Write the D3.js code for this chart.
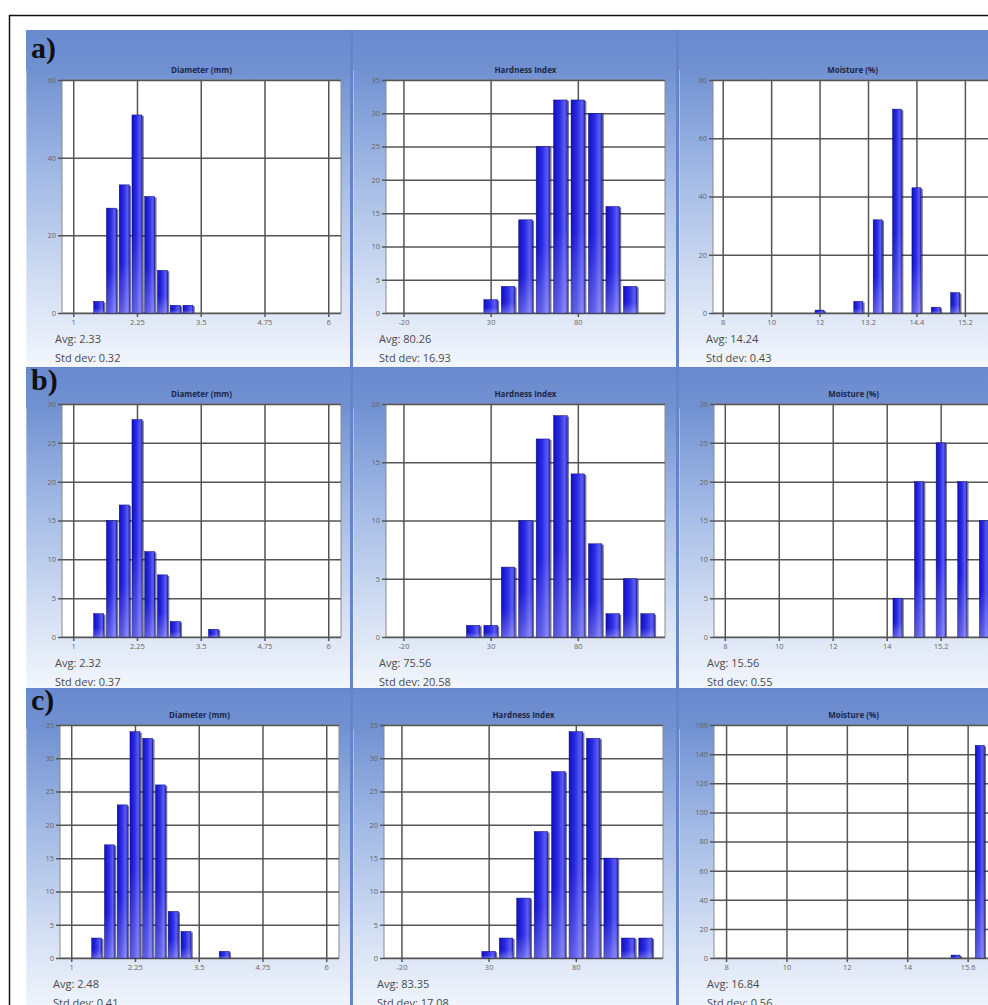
<!DOCTYPE html>
<html>
<head>
<meta charset="utf-8">
<script src="https://cdn.jsdelivr.net/npm/d3@7"></script>
<style>
  body { margin: 0; background: #fff; }
  svg { display: block; }
</style>
</head>
<body>
<svg id="chart" width="988" height="1005"></svg>
<script>
'use strict';

var rowLabels = ['a)', 'b)', 'c)'];
var titles = ['Diameter (mm)', 'Hardness Index', 'Moisture (%)'];

// Diameter (mm)
var diamBins = [1.5, 1.75, 2.0, 2.25, 2.5, 2.75, 3.0, 3.25, 3.5, 3.75, 4.0];
var diamA = [3, 27, 33, 51, 30, 11, 2, 2, 0, 0, 0];
var diamB = [3, 15, 17, 28, 11, 8, 2, 0, 0, 1, 0];
var diamC = [3, 17, 23, 34, 33, 26, 7, 4, 0, 0, 1];
var diamTicks = [1, 2.25, 3.5, 4.75, 6];

// Hardness index
var hardBins = [20, 30, 40, 50, 60, 70, 80, 90, 100, 110, 120];
var hardA = [0, 2, 4, 14, 25, 32, 32, 30, 16, 4, 0];
var hardB = [1, 1, 6, 10, 17, 19, 14, 8, 2, 5, 2];
var hardC = [0, 1, 3, 9, 19, 28, 34, 33, 15, 3, 3];
var hardTicks = [-20, 30, 80];

// Moisture (%) -- the labels sit on evenly spaced grid lines
var moistTicksA = [8, 10, 12, 13.2, 14.4, 15.2];
var moistTicksB = [8, 10, 12, 14, 15.2];
var moistTicksC = [8, 10, 12, 14, 15.6];
var moistBinsA = [12.0, 12.96, 13.44, 13.92, 14.4, 14.72, 15.04];
var moistA = [1, 4, 32, 70, 43, 2, 7];
var moistBinsB = [14.24, 14.72, 15.2, 15.68, 16.16];
var moistB = [5, 20, 25, 20, 15];
var moistBinsC = [15.28, 15.92];
var moistC = [2, 146];

// y axis max / step, rows a,b,c by columns
var yMaxes = [[60, 35, 80], [30, 20, 30], [35, 35, 160]];
var ySteps = [[20, 5, 20], [5, 5, 5], [5, 5, 20]];

var avgs = [['2.33', '80.26', '14.24'], ['2.32', '75.56', '15.56'], ['2.48', '83.35', '16.84']];
var stds = [['0.32', '16.93', '0.43'], ['0.37', '20.58', '0.55'], ['0.41', '17.08', '0.56']];

// layout
var rowTop = [30, 368, 689],
  rowH = [337, 320, 322],
  plotTopOff = [50, 36, 36],
  labelOff = [28, 22, 21],
  colLeft = [26, 353, 679],
  colRight = [350, 676, 1010],
  plotLefts = [[62, 386, 713], [62, 386, 714], [60, 384, 714]],
  plotW = 279,
  plotH = 233,
  moistSpan = [5.76, 5.17, 4.62],
  barW = [10, 13.5, 9];

var svg = d3.select('#chart');
var defs = svg.append('defs');

function grad(id, x2, y2, stops) {
  var g = defs.append('linearGradient').attr('id', id)
    .attr('x1', 0).attr('y1', 0).attr('x2', x2).attr('y2', y2);
  stops.forEach(function (s) {
    g.append('stop').attr('offset', s[0]).attr('stop-color', s[1])
      .attr('stop-opacity', s[2] === undefined ? 1 : s[2]);
  });
}
grad('panelGrad', 0, 1, [[0, '#6a8acf'], [0.12, '#7191d2'], [0.45, '#a5bce6'], [0.8, '#d9e3f5'], [1, '#f2f6fc']]);
grad('barGrad', 1, 0, [[0, '#1010c0'], [0.45, '#2b2be3'], [0.8, '#5a5af5'], [1, '#3a3ad2']]);
grad('barShade', 0, 1, [[0, '#ffffff', 0], [0.6, '#ffffff', 0], [1, '#ffffff', 0.28]]);

// outer frame
svg.append('rect')
  .attr('x', 9.5).attr('y', 15.5).attr('width', 1000).attr('height', 1000)
  .attr('fill', 'none').attr('stroke', '#111').attr('stroke-width', 1.5);

// blue backdrop
svg.append('rect')
  .attr('x', 26).attr('y', 30).attr('width', 990).attr('height', 990)
  .attr('fill', '#6585cb');

var diamCounts = [diamA, diamB, diamC],
  hardCounts = [hardA, hardB, hardC],
  moistTicks = [moistTicksA, moistTicksB, moistTicksC],
  moistBins = [moistBinsA, moistBinsB, moistBinsC],
  moistCounts = [moistA, moistB, moistC];

function xScaleFor(r, c) {
  if (c === 0) return d3.scaleLinear().domain([0.78, 6.25]).range([0, plotW]);
  if (c === 1) return d3.scaleLinear().domain([-30, 130]).range([0, plotW]);
  var ticks = moistTicks[r],
    step = plotW / moistSpan[r];
  return d3.scaleLinear().domain(ticks).range(ticks.map(function (d, i) {
    return (i + 0.2) * step;
  }));
}

rowLabels.forEach(function (lab, r) {
  [0, 1, 2].forEach(function (c) {
    svg.append('rect')
      .attr('x', colLeft[c]).attr('y', rowTop[r])
      .attr('width', colRight[c] - colLeft[c]).attr('height', rowH[r])
      .attr('fill', 'url(#panelGrad)');
    svg.append('line')
      .attr('x1', colLeft[c] + 0.5).attr('x2', colLeft[c] + 0.5)
      .attr('y1', rowTop[r] + 40).attr('y2', rowTop[r] + rowH[r])
      .attr('stroke', '#ffffff').attr('stroke-opacity', 0.35);

    var px = plotLefts[r][c],
      py = rowTop[r] + plotTopOff[r];
    var x = xScaleFor(r, c);
    var y = d3.scaleLinear().domain([0, yMaxes[r][c]]).range([plotH, 0]);
    var bins = c === 0 ? diamBins : c === 1 ? hardBins : moistBins[r];
    var counts = c === 0 ? diamCounts[r] : c === 1 ? hardCounts[r] : moistCounts[r];
    var xticks = c === 0 ? diamTicks : c === 1 ? hardTicks : moistTicks[r];

    var g = svg.append('g').attr('transform', 'translate(' + px + ',' + py + ')');

    g.append('rect')
      .attr('width', plotW).attr('height', plotH)
      .attr('fill', '#fff').attr('stroke', '#8a8a8a');

    var yAxis = d3.axisLeft(y)
      .tickValues(d3.range(0, yMaxes[r][c] + 0.001, ySteps[r][c]))
      .tickSizeInner(plotW + 4).tickSizeOuter(0).tickPadding(2)
      .tickFormat(function (d) { return String(d); });
    g.append('g').attr('transform', 'translate(' + plotW + ',0)').call(yAxis);

    var xAxis = d3.axisBottom(x)
      .tickValues(xticks)
      .tickSizeInner(plotH + 4).tickSizeOuter(0).tickPadding(3)
      .tickFormat(function (d) { return String(d); });
    g.append('g').call(xAxis);

    g.selectAll('.domain').remove();
    g.selectAll('.tick line').attr('stroke', '#555').attr('stroke-width', 1.5);
    g.selectAll('.tick text')
      .attr('fill', '#666').style('font-family', '"Open Sans", sans-serif').style('font-size', '7.5px');

    var data = bins.map(function (b, i) { return [b, counts[i]]; })
      .filter(function (d) { return d[1] > 0; });
    var bw = barW[c];

    var bars = g.selectAll('g.bar').data(data).enter().append('g').classed('bar', true);
    bars.append('rect')
      .attr('x', function (d) { return x(d[0]) - bw / 2 + 1.8; })
      .attr('y', function (d) { return y(d[1]) + 1; })
      .attr('width', bw)
      .attr('height', function (d) { return Math.max(0, plotH - y(d[1]) - 1); })
      .attr('fill', '#1a1a4a').attr('opacity', 0.6);
    bars.append('rect')
      .attr('x', function (d) { return x(d[0]) - bw / 2; })
      .attr('y', function (d) { return y(d[1]); })
      .attr('width', bw)
      .attr('height', function (d) { return plotH - y(d[1]); })
      .attr('fill', 'url(#barGrad)')
      .attr('stroke', '#0a0a7a').attr('stroke-width', 0.5);
    bars.append('rect')
      .attr('x', function (d) { return x(d[0]) - bw / 2; })
      .attr('y', function (d) { return y(d[1]); })
      .attr('width', bw)
      .attr('height', function (d) { return plotH - y(d[1]); })
      .attr('fill', 'url(#barShade)');

    g.append('text')
      .attr('x', plotW / 2).attr('y', -7)
      .attr('text-anchor', 'middle')
      .attr('fill', '#1c2646')
      .style('font-family', '"Open Sans", sans-serif').style('font-weight', 700).style('font-size', '8px')
      .text(titles[c]);

    g.append('text')
      .attr('x', -7).attr('y', plotH + 30)
      .attr('fill', '#4a4a4a')
      .style('font-family', '"Open Sans", sans-serif').style('font-size', '11px')
      .text('Avg: ' + avgs[r][c]);
    g.append('text')
      .attr('x', -7).attr('y', plotH + 49)
      .attr('fill', '#4a4a4a')
      .style('font-family', '"Open Sans", sans-serif').style('font-size', '11px')
      .text('Std dev: ' + stds[r][c]);
  });

  svg.append('text')
    .attr('x', 31).attr('y', rowTop[r] + labelOff[r])
    .attr('fill', '#111')
    .style('font-family', '"Liberation Serif", "Times New Roman", serif')
    .style('font-weight', 700).style('font-size', '30px')
    .text(lab);
});
</script>
</body>
</html>
